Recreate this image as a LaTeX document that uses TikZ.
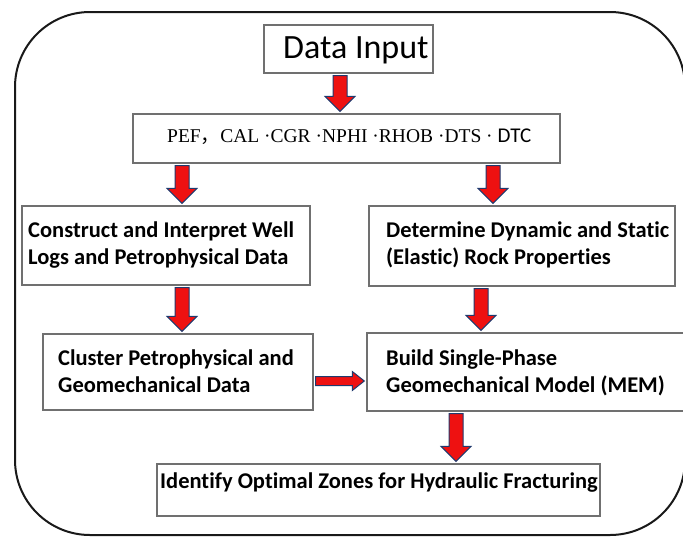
\documentclass[tikz,border=0pt]{standalone}
\usepackage{fontspec}
\setmainfont{Carlito}[Ligatures=NoCommon]
\newfontfamily\tnr{Liberation Serif}
\newfontfamily\cjkf{Noto Sans CJK SC}
\usetikzlibrary{calc}
\definecolor{arrred}{HTML}{EE1111}
\definecolor{arrnavy}{HTML}{1F3A6E}
\definecolor{boxgray}{HTML}{707070}
\tikzset{
  boxsty/.style={draw=boxgray, line width=1.4pt, fill=white, inner sep=0pt},
  arrsty/.style={fill=arrred, draw=arrnavy, line width=1pt, line join=miter},
  txt/.style={inner sep=0pt, anchor=base west, align=left, font=\bfseries\fontsize{22.5}{27}\selectfont},
}
\newcommand\darrow[2]{\draw[arrsty] let \p1=#1, \p2=#2 in
  (\x1-7pt,\y1-2pt) -- (\x1+7pt,\y1-2pt) -- (\x1+7pt,\y2+17pt) -- (\x1+15pt,\y2+17pt)
  -- (\x1,\y2+2pt) -- (\x1-15pt,\y2+17pt) -- (\x1-7pt,\y2+17pt) -- cycle;}
\newcommand\rarrow[2]{\draw[arrsty] let \p1=#1, \p2=#2 in
  (\x1+2pt,\y1-4.5pt) -- (\x2-14pt,\y1-4.5pt) -- (\x2-14pt,\y1-9.5pt) -- (\x2-2pt,\y1)
  -- (\x2-14pt,\y1+9.5pt) -- (\x2-14pt,\y1+4.5pt) -- (\x1+2pt,\y1+4.5pt) -- cycle;}
\begin{document}
\begin{tikzpicture}[x=1pt,y=-1pt]
\useasboundingbox (0,0) rectangle (683,536);
\node[draw=black!90, line width=2pt, rounded corners=75pt, minimum width=670pt, minimum height=523pt, inner sep=0pt] (frame) at (350,273.5) {};
% boxes
\node[boxsty, minimum width=169pt, minimum height=48pt] (din) at (348.5,49) {};
\node[boxsty, minimum width=427pt, minimum height=49pt] (pef) at (346.5,138.5) {};
\node[boxsty, minimum width=288pt, minimum height=79pt] (lb1) at (166,245.5) {};
\node[boxsty, minimum width=306pt, minimum height=80pt] (rb1) at (522,246) {};
\node[boxsty, minimum width=270pt, minimum height=76pt] (lb2) at (178,372) {};
\node[boxsty, minimum width=323pt, minimum height=78pt] (rb2) at (528.5,372) {};
\node[boxsty, minimum width=443pt, minimum height=52pt] (bot) at (378.5,490) {};
% texts
\node[inner sep=0pt, anchor=base west, font=\fontsize{34}{40}\selectfont] (tdin) at (283,58) {Data Input};
\node[inner sep=0pt, anchor=base west, font=\fontsize{19.5}{24}\selectfont] (tpef) at (167,142)
  {\tnr PEF{\cjkf ，}CAL ·CGR ·NPHI ·RHOB ·DTS · {\rmfamily\fontsize{21}{24}\selectfont DTC}};
\node[txt] (tlb1) at (28,264) {Construct and Interpret Well\\Logs and Petrophysical Data};
\node[txt] (trb1) at (386,264) {Determine Dynamic and Static\\(Elastic) Rock Properties};
\node[txt] (tlb2) at (58,392) {Cluster Petrophysical and\\Geomechanical Data};
\node[txt] (trb2) at (386,392) {Build Single-Phase\\Geomechanical Model (MEM)};
\node[txt] (tbot) at (160,488) {Identify Optimal Zones for Hydraulic Fracturing};
% arrows
\darrow{(340,0 |- din.south)}{(340,0 |- pef.north)}
\darrow{(182,0 |- pef.south)}{(182,0 |- lb1.north)}
\darrow{(493,0 |- pef.south)}{(493,0 |- rb1.north)}
\darrow{(182,0 |- lb1.south)}{(182,0 |- lb2.north)}
\darrow{(481,0 |- rb1.south)}{(481,0 |- rb2.north)}
\darrow{(456,0 |- rb2.south)}{(456,0 |- bot.north)}
\rarrow{(lb2.east |- 0,381)}{(rb2.west |- 0,381)}
\end{tikzpicture}
\end{document}
